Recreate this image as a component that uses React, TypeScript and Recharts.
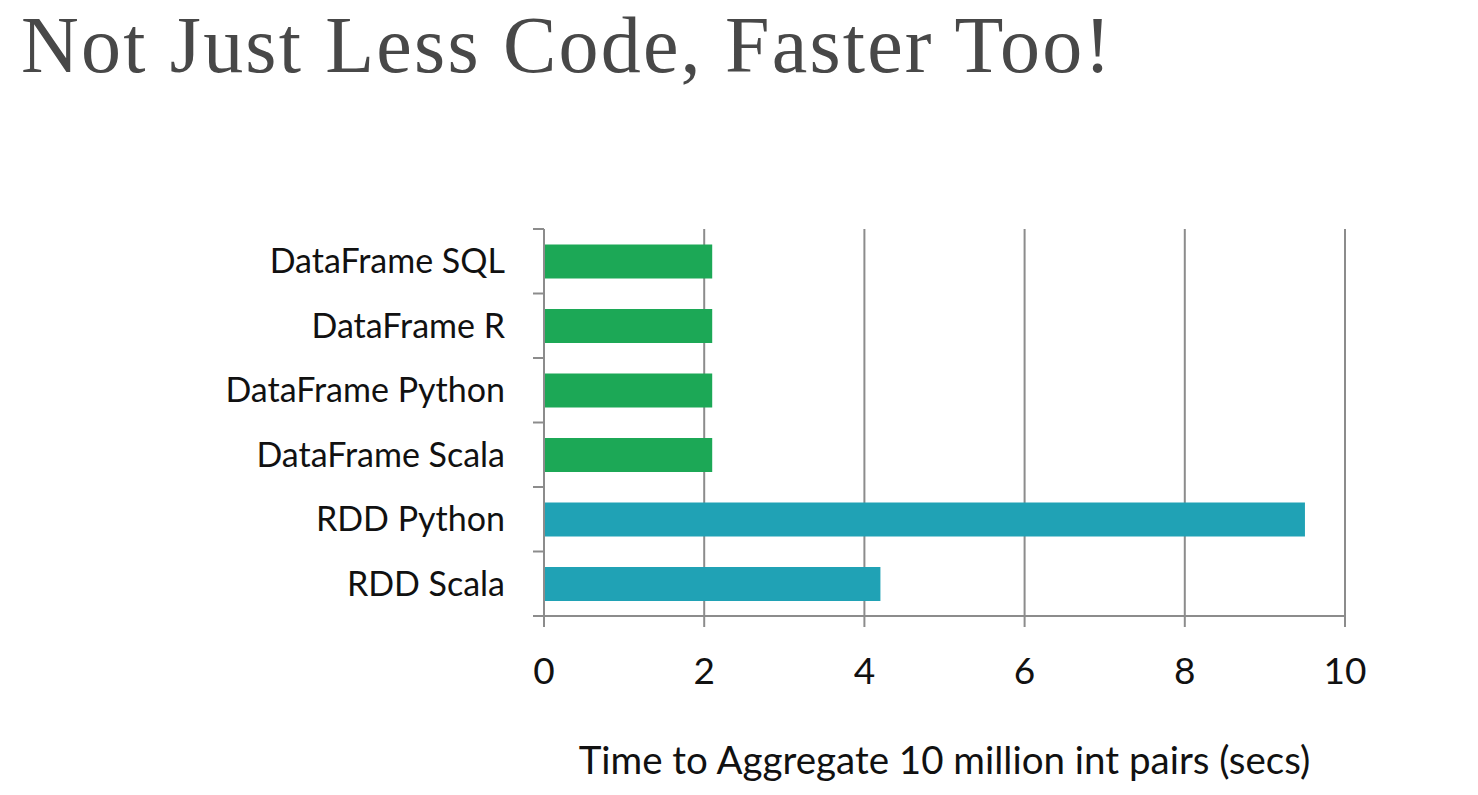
import { BarChart, Bar, XAxis, YAxis, CartesianGrid, Cell, Label } from "recharts";

const categories = [
  "DataFrame SQL",
  "DataFrame R",
  "DataFrame Python",
  "DataFrame Scala",
  "RDD Python",
  "RDD Scala",
];
const seconds = [2.1, 2.1, 2.1, 2.1, 9.5, 4.2];
const kinds = ["df", "df", "df", "df", "rdd", "rdd"];
const xTicks = [0, 2, 4, 6, 8, 10];

const colors: Record<string, string> = { df: "#1ca856", rdd: "#20a2b5" };
const AXIS = "#8c8c8c";

const W = 1478;
const H = 795;
const PLOT_TOP = 229;
const PLOT_BOTTOM = 616;
const PLOT_LEFT = 544;
const PLOT_RIGHT = 1345;
const BAND = (PLOT_BOTTOM - PLOT_TOP) / categories.length;

const data = categories.map((name, i) => ({ name, secs: seconds[i], kind: kinds[i] }));

const CategoryTick = (props: any) => {
  const { x, y, payload, index } = props;
  const isLast = index === categories.length - 1;
  return (
    <g>
      <line x1={PLOT_LEFT - 11} x2={PLOT_LEFT} y1={y - BAND / 2} y2={y - BAND / 2} stroke={AXIS} strokeWidth={2} />
      {isLast && (
        <line x1={PLOT_LEFT - 11} x2={PLOT_LEFT} y1={y + BAND / 2} y2={y + BAND / 2} stroke={AXIS} strokeWidth={2} />
      )}
      <text x={x} y={y} dy="0.35em" textAnchor="end" fill="#111" fontSize={34} fontFamily="Lato, sans-serif">
        {payload.value}
      </text>
    </g>
  );
};

export default function App() {
  return (
    <div style={{ position: "absolute", left: 0, top: 0, width: W, height: H, background: "#fff" }}>
      <div
        style={{
          position: "absolute",
          left: 21,
          top: 0,
          fontFamily: "'Liberation Serif', serif",
          fontSize: 80,
          letterSpacing: 2.2,
          lineHeight: "90px",
          color: "#484848",
          whiteSpace: "nowrap",
        }}
      >
        Not Just Less Code, Faster Too!
      </div>
      <div style={{ position: "absolute", left: 0, top: 0 }}>
        <BarChart
          width={W}
          height={H}
          data={data}
          layout="vertical"
          barCategoryGap="24%"
          margin={{ top: PLOT_TOP, bottom: H - PLOT_BOTTOM - 150, left: 0, right: W - PLOT_RIGHT }}
        >
          <CartesianGrid vertical horizontal={false} stroke={AXIS} strokeWidth={2} />
          <XAxis
            type="number"
            dataKey="secs"
            domain={[0, 10]}
            ticks={xTicks}
            interval={0}
            height={150}
            stroke={AXIS}
            strokeWidth={2}
            tickSize={11}
            tickMargin={31}
            tick={{ fill: "#111", fontSize: 37, fontFamily: "Lato, sans-serif" }}
          >
            <Label
              value="Time to Aggregate 10 million int pairs (secs)"
              position="insideBottom"
              offset={-8}
              fill="#111"
              fontSize={38.5}
              fontFamily="Lato, sans-serif"
            />
          </XAxis>
          <YAxis
            type="category"
            dataKey="name"
            width={PLOT_LEFT}
            stroke={AXIS}
            strokeWidth={2}
            tickLine={false}
            tickSize={11}
            tickMargin={28}
            interval={0}
            tick={<CategoryTick />}
          />
          <Bar dataKey="secs" isAnimationActive={false}>
            {data.map((d) => (
              <Cell key={d.name} fill={colors[d.kind]} />
            ))}
          </Bar>
        </BarChart>
      </div>
    </div>
  );
}
